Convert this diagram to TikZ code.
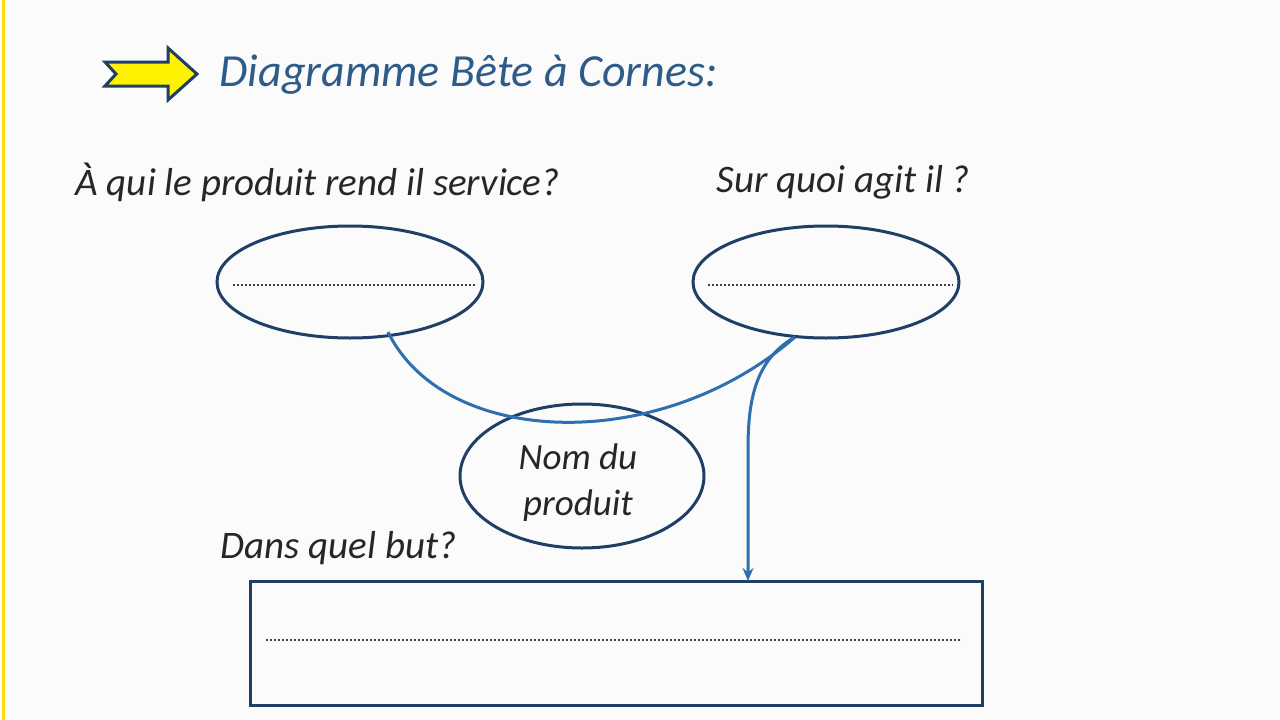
\documentclass[tikz,border=0pt]{standalone}
\usepackage{fontspec}
\setmainfont{Carlito}
\usetikzlibrary{arrows.meta}
\definecolor{lineblue}{HTML}{2F6FAF}
\definecolor{titleblue}{HTML}{2E5C8A}
\definecolor{darkline}{HTML}{1F3F66}
\tikzset{
  qtext/.style={font=\fontsize{39}{42}\selectfont\itshape,text=black!85,anchor=west},
  conn/.style={draw=lineblue,line width=3pt},
  dots/.style={draw=black!75,line width=2pt,dotted}
}
\begin{document}
\begin{tikzpicture}[x=1pt,y=-1pt]
\useasboundingbox (0,0) rectangle (1280,720);
\fill[white!97!gray] (0,0) rectangle (1280,720);
\draw[yellow!80!orange,line width=3pt] (3,0) -- (3,720);
% title arrow
\draw[darkline,line width=3pt,fill=yellow] (105,62) -- (168,62) -- (168,48) -- (197,74) -- (168,100) -- (168,86) -- (105,86) -- (116,74) -- cycle;
\node[anchor=west,font=\fontsize{46}{50}\selectfont\itshape,text=titleblue] (title) at (216,75) {Diagramme Bête à Cornes:};
% questions
\node[qtext] (q1) at (72,182) {À qui le produit rend il service?};
\node[qtext] (q2) at (713,182) {Sur quoi agit il ?};
\node[qtext] (q3) at (217,548) {Dans quel but?};
% ellipses
\draw[darkline,line width=3pt] (350,282) ellipse [x radius=133,y radius=56];
\draw[darkline,line width=3pt] (826,282) ellipse [x radius=133,y radius=56];
\coordinate (e1) at (388,332);
\coordinate (e2) at (795,337);
\draw[dots] (233,285) -- (477,285);
\draw[dots] (708,285) -- (953,285);
% product
\draw[darkline,line width=3pt] (582,476) ellipse [x radius=122,y radius=72];
\node[font=\fontsize{37}{46}\selectfont\itshape,align=center,text=black!85] (prod) at (578,483) {Nom du\\produit};
% rectangle
\draw[darkline,line width=3pt] (250,581) rectangle (982,705);
\draw[dots] (266,640) -- (962,640);
\coordinate (r) at (748,581);
% connectors
\draw[conn] (e1) .. controls (445,448) and (660,455) .. (e2);
\draw[conn,-{Stealth[length=13pt,width=11pt]}] (e2) .. controls (755,360) and (748,400) .. (748,450) -- (r);
\end{tikzpicture}
\end{document}
